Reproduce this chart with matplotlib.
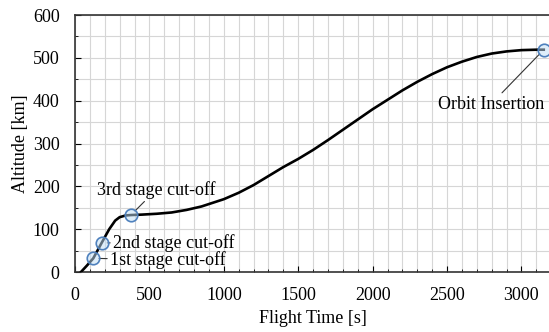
import matplotlib
matplotlib.use("Agg")
import matplotlib.pyplot as plt
from matplotlib.ticker import MultipleLocator

# trajectory
time_s = [40, 80, 123, 179, 230, 270, 300, 340, 376, 450, 550, 650, 750, 850,
          1000, 1100, 1200, 1300, 1400, 1500, 1600, 1700, 1800, 1900, 2000,
          2100, 2200, 2300, 2400, 2500, 2600, 2700, 2800, 2900, 3000, 3100, 3150]
altitude_km = [0, 15, 32, 68, 100, 120, 128, 132, 133, 134, 136, 139, 145, 153,
               170, 185, 203, 224, 245, 264, 285, 308, 332, 356, 380,
               402, 424, 444, 462, 478, 491, 502, 510, 515, 518, 519, 519]

event_names = ["1st stage cut-off", "2nd stage cut-off", "3rd stage cut-off", "Orbit Insertion"]
event_time = [123, 179, 376, 3150]
event_alt = [32, 68, 133, 519]
label_pos = [(235, 28), (255, 68), (545, 192), (2796, 392)]
label_ha = ["left", "left", "center", "center"]

plt.rcParams["font.family"] = ["Liberation Serif", "DejaVu Serif"]
plt.rcParams["font.size"] = 13

fig = plt.figure(figsize=(5.49, 3.32), dpi=100)
ax = fig.add_axes([0.1366, 0.1807, 1.004 - 0.1366, 0.9548 - 0.1807])

ax.plot(time_s, altitude_km, color="black", lw=1.9, zorder=3)
ax.plot(event_time, event_alt, "o", ms=9, mfc=(0.75, 0.87, 0.97, 0.5),
        mec="#4f81bd", mew=1.2, zorder=4, clip_on=False)

for name, t, a, pos, ha in zip(event_names, event_time, event_alt, label_pos, label_ha):
    ax.annotate(name, xy=(t, a), xytext=pos, ha=ha, va="center", fontsize=13,
                arrowprops=dict(arrowstyle="-", color="#333333", lw=0.8,
                                shrinkA=0, shrinkB=4))

ax.set_xlim(0, 3200)
ax.set_ylim(0, 600)
ax.xaxis.set_major_locator(MultipleLocator(500))
ax.xaxis.set_minor_locator(MultipleLocator(100))
ax.yaxis.set_major_locator(MultipleLocator(100))
ax.yaxis.set_minor_locator(MultipleLocator(50))
ax.grid(True, which="both", color="#d6d6d6", lw=0.8)
ax.set_axisbelow(True)
ax.tick_params(which="both", direction="in", top=False, right=False)
ax.tick_params(which="major", length=4, labelsize=13)
ax.tick_params(axis="x", which="major", pad=11)
ax.tick_params(axis="y", which="major", pad=11)
ax.tick_params(which="minor", length=2.5)
for side in ["top", "bottom", "left"]:
    ax.spines[side].set_linewidth(1.2)
    ax.spines[side].set_color("#333333")
ax.spines["right"].set_visible(False)

ax.set_xlabel("Flight Time [s]", fontsize=13, labelpad=4)
ax.set_ylabel("Altitude [km]", fontsize=13, labelpad=3)

fig.savefig("out.png", dpi=100)
